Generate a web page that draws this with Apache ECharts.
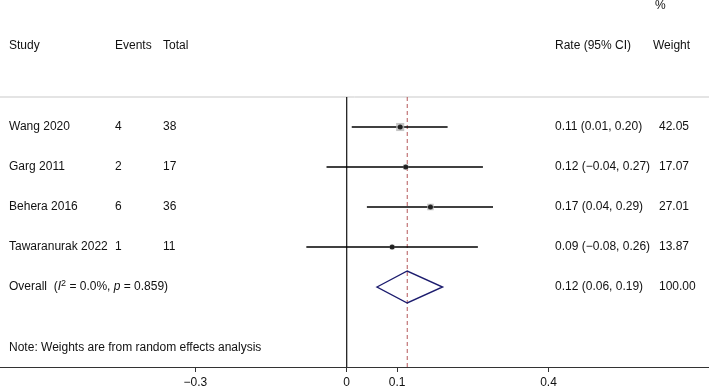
<!DOCTYPE html>
<html>
<head>
<meta charset="utf-8">
<script src="https://cdn.jsdelivr.net/npm/echarts@6/dist/echarts.min.js"></script>
<style>
  html, body { margin: 0; padding: 0; background: #fff; }
  #main { width: 709px; height: 390px; }
</style>
</head>
<body>
<div id="main"></div>
<script>
// study data
const studies = ['Wang 2020', 'Garg 2011', 'Behera 2016', 'Tawaranurak 2022'];
const events = [4, 2, 6, 1];
const totals = [38, 17, 36, 11];
const rates = [0.106, 0.117, 0.166, 0.09];
const lower = [0.01, -0.04, 0.04, -0.08];
const upper = [0.20, 0.27, 0.29, 0.26];
const weights = [42.05, 17.07, 27.01, 13.87];
// pooled estimate: rate, lower, upper, weight
const overall = [0.12, 0.06, 0.19, 100.00];
const heterogeneity = ['0.0%', '0.859'];
const tickValues = [-0.3, 0, 0.1, 0.4];

// column positions (x in axis units), row positions (y in row units)
const col = { study: -0.6693, events: -0.4593, total: -0.3641, rate: 0.4129, weightHead: 0.607, weight: 0.619, pct: 0.611 };
const row = { pct: -2.025, head: -1.025, rule: 0.25, overall: 5, note: 6.525, bottom: 7 };

const FONT = '12px "Liberation Sans", Arial, sans-serif';
const fmt = v => (v < 0 ? '\u2212' : '') + Math.abs(v).toFixed(2);

// text items: [x, y, text]
const texts = [
  [col.pct, row.pct, '%'],
  [col.study, row.head, 'Study'],
  [col.events, row.head, 'Events'],
  [col.total, row.head, 'Total'],
  [col.rate, row.head, 'Rate (95% CI)'],
  [col.weightHead, row.head, 'Weight']
];
studies.forEach((s, i) => {
  const r = i + 1;
  texts.push([col.study, r, s]);
  texts.push([col.events, r, String(events[i])]);
  texts.push([col.total, r, String(totals[i])]);
  texts.push([col.rate, r, fmt(rates[i]) + ' (' + fmt(lower[i]) + ', ' + fmt(upper[i]) + ')']);
  texts.push([col.weight, r, weights[i].toFixed(2)]);
});
texts.push([col.study, row.overall, 'Overall  ({i|I}{sup|2} = ' + heterogeneity[0] + ', {i|p} = ' + heterogeneity[1] + ')']);
texts.push([col.rate, row.overall, fmt(overall[0]) + ' (' + fmt(overall[1]) + ', ' + fmt(overall[2]) + ')']);
texts.push([col.weight, row.overall, overall[3].toFixed(2)]);
texts.push([col.study, row.note, 'Note: Weights are from random effects analysis']);

// line segments: [x1, y1, x2, y2, kind]
const xMin = -0.6872, xMax = 0.7181;
const segs = [
  [xMin, row.rule, xMax, row.rule, 'rule'],
  [0, row.rule, 0, row.bottom, 'zero'],
  [overall[0], row.rule, overall[0], row.bottom, 'dash']
];
studies.forEach((s, i) => segs.push([lower[i], i + 1, upper[i], i + 1, 'ci']));

const lineStyles = {
  rule: { stroke: '#c9c9c9', lineWidth: 1 },
  zero: { stroke: '#111', lineWidth: 1.2 },
  dash: { stroke: '#b5585a', lineWidth: 1, lineDash: [4, 3] },
  ci: { stroke: '#000', lineWidth: 1.4 }
};

const chart = echarts.init(document.getElementById('main'));
chart.setOption({
  animation: false,
  grid: { left: 0, right: 0, top: 0, bottom: 23 },
  xAxis: {
    type: 'value',
    position: 'bottom',
    min: xMin,
    max: xMax,
    splitLine: { show: false },
    axisLine: { show: true, onZero: false, lineStyle: { color: '#333', width: 1.2 } },
    axisTick: { show: true, length: 5, customValues: tickValues, lineStyle: { color: '#333' } },
    axisLabel: {
      customValues: tickValues,
      margin: 10,
      color: '#111',
      fontSize: 12,
      fontFamily: 'Liberation Sans',
      formatter: v => (v < 0 ? '\u2212' : '') + String(Math.abs(v))
    }
  },
  yAxis: {
    type: 'value',
    inverse: true,
    min: -2.175,
    max: row.bottom,
    show: false
  },
  series: [
    {
      type: 'custom',
      silent: true,
      data: segs,
      renderItem: (params, api) => {
        const p1 = api.coord([api.value(0), api.value(1)]);
        const p2 = api.coord([api.value(2), api.value(3)]);
        return {
          type: 'line',
          shape: { x1: p1[0], y1: p1[1], x2: p2[0], y2: p2[1] },
          style: lineStyles[segs[params.dataIndex][4]]
        };
      }
    },
    {
      type: 'scatter',
      silent: true,
      symbol: 'rect',
      symbolSize: (v, p) => 1.25 * Math.sqrt(weights[p.dataIndex]),
      itemStyle: { color: '#b8b8b8' },
      data: rates.map((r, i) => [r, i + 1])
    },
    {
      type: 'scatter',
      silent: true,
      symbol: 'circle',
      symbolSize: 5,
      itemStyle: { color: '#000' },
      data: rates.map((r, i) => [r, i + 1])
    },
    {
      type: 'custom',
      silent: true,
      data: [[overall[0], overall[1], overall[2], row.overall]],
      renderItem: (params, api) => {
        const y = api.value(3);
        const c = api.coord([api.value(0), y]);
        const l = api.coord([api.value(1), y]);
        const r = api.coord([api.value(2), y]);
        const h = 16;
        return {
          type: 'polygon',
          shape: { points: [[l[0], c[1]], [c[0], c[1] - h], [r[0], c[1]], [c[0], c[1] + h]] },
          style: { fill: 'none', stroke: '#1c1c6e', lineWidth: 1.4 }
        };
      }
    },
    {
      type: 'custom',
      silent: true,
      data: texts,
      renderItem: (params, api) => {
        const p = api.coord([api.value(0), api.value(1)]);
        return {
          type: 'text',
          x: p[0],
          y: p[1],
          style: {
            text: texts[params.dataIndex][2],
            font: FONT,
            fill: '#111',
            align: 'left',
            verticalAlign: 'middle',
            rich: {
              i: { font: 'italic ' + FONT, fill: '#111' },
              sup: { font: '9px "Liberation Sans", Arial, sans-serif', fill: '#111', verticalAlign: 'top', padding: [0, 0, 6, 0] }
            }
          }
        };
      }
    }
  ]
});
</script>
</body>
</html>
